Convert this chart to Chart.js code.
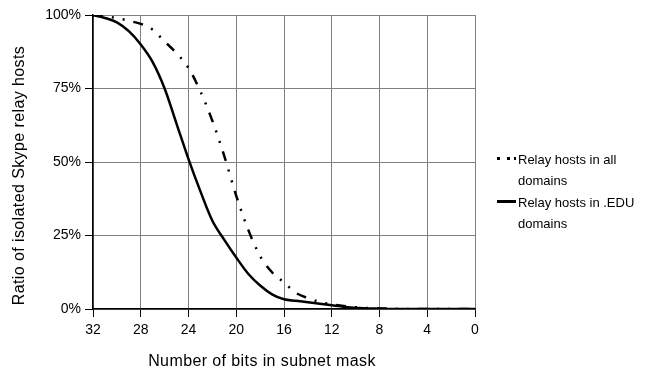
<!DOCTYPE html>
<html>
<head>
<meta charset="utf-8">
<script src="https://cdn.jsdelivr.net/npm/chart.js@4/dist/chart.umd.min.js"></script>
<style>
html, body { margin: 0; padding: 0; background: #fff; }
#wrap { position: relative; width: 653px; height: 368px; }
#legend { position: absolute; left: 497px; top: 149px; font: 13px "Liberation Sans", Arial, sans-serif; color: #000; }
.item { position: relative; padding-left: 21px; line-height: 21px; margin-bottom: 1px; }
.sym { position: absolute; left: 0; top: 8px; }
</style>
</head>
<body>
<div id="wrap">
    <canvas id="myChart" width="653" height="368"></canvas>
    <div id="legend">
        <div class="item">
            <svg class="sym" width="20" height="4"><rect x="0" y="0" width="3" height="3" fill="#000"/><rect x="10" y="0" width="3" height="3" fill="#000"/><rect x="17" y="0" width="2" height="3" fill="#000"/></svg>
            Relay hosts in all<br>domains
        </div>
        <div class="item">
            <svg class="sym" width="20" height="4"><rect x="0" y="0" width="19" height="3" fill="#000"/></svg>
            Relay hosts in .EDU<br>domains
        </div>
    </div>
</div>
<script>
// Data
const bits = [32, 31, 30, 29, 28, 27, 26, 25, 24, 23, 22, 21, 20, 19, 18, 17, 16,
    15, 14, 13, 12, 11, 10, 9, 8, 7, 6, 5, 4, 3, 2, 1, 0];
const allDomains = [100, 99.5, 99, 98, 97, 95, 91, 87, 82, 74, 64, 52, 38.5, 27, 18, 12.5, 9,
    5.5, 3.7, 2.4, 1.6, 1, 0.6, 0.3, 0.2, 0.1, 0, 0, 0, 0, 0, 0, 0];
const eduDomains = [100, 99, 97.5, 94.5, 90, 84, 75, 63, 51, 40, 30, 23.5, 17.5, 12, 8, 5, 3.3,
    2.8, 2.3, 1.8, 1.3, 0.8, 0.4, 0.2, 0.1, 0, 0, 0, 0, 0, 0, 0, 0];
const seriesLabels = ["Relay hosts in all domains", "Relay hosts in .EDU domains"];
const xTitle = 'Number of bits in subnet mask';
const yTitle = 'Ratio of isolated Skype relay hosts';

const fontFamily = '"Liberation Sans", Arial, sans-serif';
const toPoints = (vals) => bits.map((b, i) => ({ x: b, y: vals[i] }));

// Axis titles sit a bit off-centre in the original, so draw them by hand
const axisTitles = {
    id: 'axisTitles',
    afterDraw(chart) {
        const c = chart.ctx;
        c.save();
        c.fillStyle = '#000';
        c.font = '16px ' + fontFamily;
        c.letterSpacing = '0.4px';
        c.textAlign = 'center';
        c.textBaseline = 'alphabetic';
        c.fillText(xTitle, 262, 366);
        c.translate(23.5, 175.5);
        c.rotate(-Math.PI / 2);
        c.fillText(yTitle, 0, 0);
        c.restore();
    }
};

const ctx = document.getElementById('myChart');
const chart = new Chart(ctx, {
    type: 'line',
    data: {
        datasets: [{
            label: seriesLabels[0],
            data: toPoints(allDomains),
            borderColor: '#000',
            borderWidth: 2.5,
            borderDash: [10, 9, 2, 9, 2, 9],
            pointRadius: 0,
            cubicInterpolationMode: 'monotone'
        }, {
            label: seriesLabels[1],
            data: toPoints(eduDomains),
            borderColor: '#000',
            borderWidth: 2.5,
            pointRadius: 0,
            cubicInterpolationMode: 'monotone'
        }]
    },
    options: {
        responsive: false,
        animation: false,
        layout: { padding: { top: 15, right: 178, left: 0, bottom: 0 } },
        plugins: {
            legend: { display: false },
            tooltip: { enabled: false }
        },
        scales: {
            x: {
                type: 'linear',
                reverse: true,
                min: 0,
                max: 32,
                afterFit: (s) => { s.height = 59; },
                ticks: { stepSize: 4, color: '#000', padding: 5, font: { family: fontFamily, size: 14 } },
                grid: { color: '#808080', tickColor: '#000', tickLength: 8 },
                border: { color: '#000', width: 1.5 }
            },
            y: {
                min: 0,
                max: 100,
                afterFit: (s) => { s.width = 93; },
                ticks: { stepSize: 25, color: '#000', padding: 4, font: { family: fontFamily, size: 14 },
                    callback: (v) => v + '%' },
                grid: { color: '#808080', tickColor: '#000', tickLength: 8 },
                border: { color: '#000', width: 1.5 }
            }
        }
    },
    plugins: [axisTitles]
});
</script>
</body>
</html>
